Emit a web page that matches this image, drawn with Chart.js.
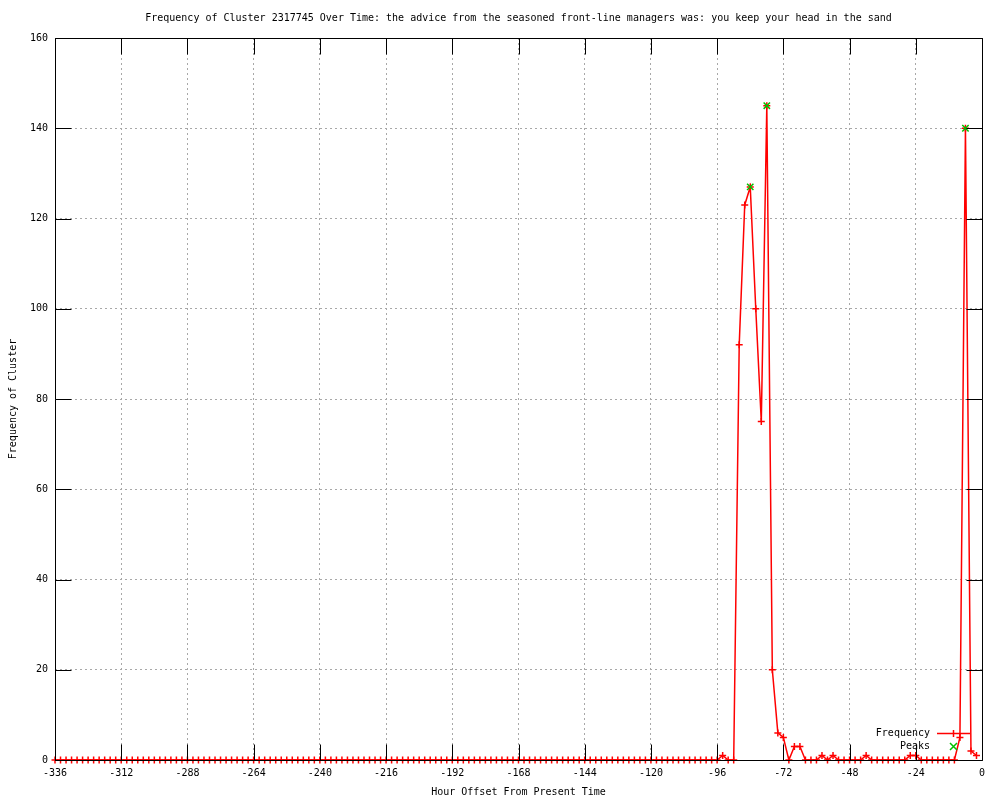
<!DOCTYPE html>
<html lang="en">
<head>
<meta charset="UTF-8" />
<title>Frequency of Cluster 2317745 Over Time</title>
<script src="https://cdn.jsdelivr.net/npm/chart.js"></script>
<style>
  body { margin: 0; background: #fff; }
  #grafico { display: block; }
</style>
</head>
<body>
<canvas id="grafico" width="1000" height="800"></canvas>
<script>
const titulo = 'Frequency of Cluster 2317745 Over Time: the advice from the seasoned front-line managers was: you keep your head in the sand';

// hour offsets (every 2 hours)
const hours = [
  -336,-334,-332,-330,-328,-326,-324,-322,-320,-318,-316,-314,
  -312,-310,-308,-306,-304,-302,-300,-298,-296,-294,-292,-290,
  -288,-286,-284,-282,-280,-278,-276,-274,-272,-270,-268,-266,
  -264,-262,-260,-258,-256,-254,-252,-250,-248,-246,-244,-242,
  -240,-238,-236,-234,-232,-230,-228,-226,-224,-222,-220,-218,
  -216,-214,-212,-210,-208,-206,-204,-202,-200,-198,-196,-194,
  -192,-190,-188,-186,-184,-182,-180,-178,-176,-174,-172,-170,
  -168,-166,-164,-162,-160,-158,-156,-154,-152,-150,-148,-146,
  -144,-142,-140,-138,-136,-134,-132,-130,-128,-126,-124,-122,
  -120,-118,-116,-114,-112,-110,-108,-106,-104,-102,-100,-98,
  -96,-94,-92,-90,-88,-86,-84,-82,-80,-78,-76,-74,
  -72,-70,-68,-66,-64,-62,-60,-58,-56,-54,-52,-50,
  -48,-46,-44,-42,-40,-38,-36,-34,-32,-30,-28,-26,
  -24,-22,-20,-18,-16,-14,-12,-10,-8,-6,-4,-2
];
const frequency = [
  0,0,0,0,0,0,0,0,0,0,0,0,
  0,0,0,0,0,0,0,0,0,0,0,0,
  0,0,0,0,0,0,0,0,0,0,0,0,
  0,0,0,0,0,0,0,0,0,0,0,0,
  0,0,0,0,0,0,0,0,0,0,0,0,
  0,0,0,0,0,0,0,0,0,0,0,0,
  0,0,0,0,0,0,0,0,0,0,0,0,
  0,0,0,0,0,0,0,0,0,0,0,0,
  0,0,0,0,0,0,0,0,0,0,0,0,
  0,0,0,0,0,0,0,0,0,0,0,0,
  0,1,0,0,92,123,127,100,75,145,20,6,
  5,0,3,3,0,0,0,1,0,1,0,0,
  0,0,0,1,0,0,0,0,0,0,0,1,
  1,0,0,0,0,0,0,0,5,140,2,1
];
const peakHours = [-84, -78, -6];
const peakValues = [127, 145, 140];

const xTickValues = [-336,-312,-288,-264,-240,-216,-192,-168,-144,-120,-96,-72,-48,-24,0];
const yTickValues = [0,20,40,60,80,100,120,140,160];

const fonte = '10px "DejaVu Sans Mono"';
Chart.defaults.font.family = '"DejaVu Sans Mono", monospace';
Chart.defaults.font.size = 10;
Chart.defaults.color = '#000';

// title, frame, inward tics and the legend, drawn the gnuplot way
const gnuplotExtras = {
  id: 'gnuplotExtras',
  afterDatasetsDraw(chart) {
    const { ctx, chartArea: a, scales: { x, y } } = chart;
    const L = Math.round(a.left) + 0.5, R = Math.round(a.right) + 0.5;
    const T = Math.round(a.top) + 0.5, B = Math.round(a.bottom) + 0.5;
    ctx.save();
    ctx.strokeStyle = '#000';
    ctx.lineWidth = 1;
    ctx.beginPath();
    xTickValues.forEach(v => {
      const px = Math.round(x.getPixelForValue(v)) + 0.5;
      ctx.moveTo(px, B); ctx.lineTo(px, B - 16);
      ctx.moveTo(px, T); ctx.lineTo(px, T + 16);
    });
    yTickValues.forEach(v => {
      const py = Math.round(y.getPixelForValue(v)) + 0.5;
      ctx.moveTo(L, py); ctx.lineTo(L + 16, py);
      ctx.moveTo(R, py); ctx.lineTo(R - 16, py);
    });
    ctx.rect(L, T, R - L, B - T);
    ctx.stroke();

    ctx.font = fonte;
    ctx.fillStyle = '#000';
    ctx.textBaseline = 'middle';
    ctx.textAlign = 'center';
    ctx.fillText(titulo, (a.left + a.right) / 2, 18);

    // legend
    ctx.textAlign = 'right';
    ctx.fillText('Frequency', 930, 733);
    ctx.fillText('Peaks', 930, 746);
    ctx.lineWidth = 1.5;
    ctx.strokeStyle = '#ff0000';
    ctx.beginPath();
    ctx.moveTo(937, 733.5); ctx.lineTo(970, 733.5);
    ctx.moveTo(953.5, 730); ctx.lineTo(953.5, 737);
    ctx.stroke();
    ctx.strokeStyle = '#00c000';
    ctx.beginPath();
    ctx.moveTo(950, 743); ctx.lineTo(957, 750);
    ctx.moveTo(957, 743); ctx.lineTo(950, 750);
    ctx.stroke();
    ctx.restore();
  }
};

new Chart(document.getElementById('grafico'), {
  type: 'scatter',
  data: {
    datasets: [
      {
        label: 'Peaks',
        data: peakHours.map((h, i) => ({ x: h, y: peakValues[i] })),
        showLine: false,
        pointStyle: 'crossRot',
        pointRadius: 4.5,
        borderColor: '#00c000',
        borderWidth: 1.5,
        clip: false,
        order: 0
      },
      {
        label: 'Frequency',
        data: hours.map((h, i) => ({ x: h, y: frequency[i] })),
        showLine: true,
        borderColor: '#ff0000',
        backgroundColor: '#ff0000',
        borderWidth: 1.5,
        pointStyle: 'cross',
        pointRadius: 3.5,
        pointBorderWidth: 1.5,
        tension: 0,
        clip: false,
        order: 1
      }
    ]
  },
  options: {
    responsive: false,
    animation: false,
    events: [],
    layout: { padding: { top: 38, right: 18, bottom: 0, left: 0 } },
    plugins: { legend: { display: false }, tooltip: { enabled: false }, title: { display: false } },
    scales: {
      x: {
        type: 'linear',
        min: -336,
        max: 0,
        afterBuildTicks: s => { s.ticks = xTickValues.map(v => ({ value: v })); },
        afterFit: s => { s.height = 40; },
        ticks: { padding: 7, maxRotation: 0, autoSkip: false, callback: v => String(v) },
        grid: { color: '#a8a8a8', drawTicks: false },
        border: { display: false, dash: [2, 3] },
        title: { display: true, text: 'Hour Offset From Present Time', padding: { top: 0, bottom: 2 } }
      },
      y: {
        min: 0,
        max: 160,
        afterBuildTicks: s => { s.ticks = yTickValues.map(v => ({ value: v })); },
        afterFit: s => { s.width = 55; },
        ticks: { padding: 7, callback: v => String(v) },
        grid: { color: '#a8a8a8', drawTicks: false },
        border: { display: false, dash: [2, 3] },
        title: { display: true, text: 'Frequency of Cluster', padding: { top: 7, bottom: 0 } }
      }
    }
  },
  plugins: [gnuplotExtras]
});
</script>
</body>
</html>
